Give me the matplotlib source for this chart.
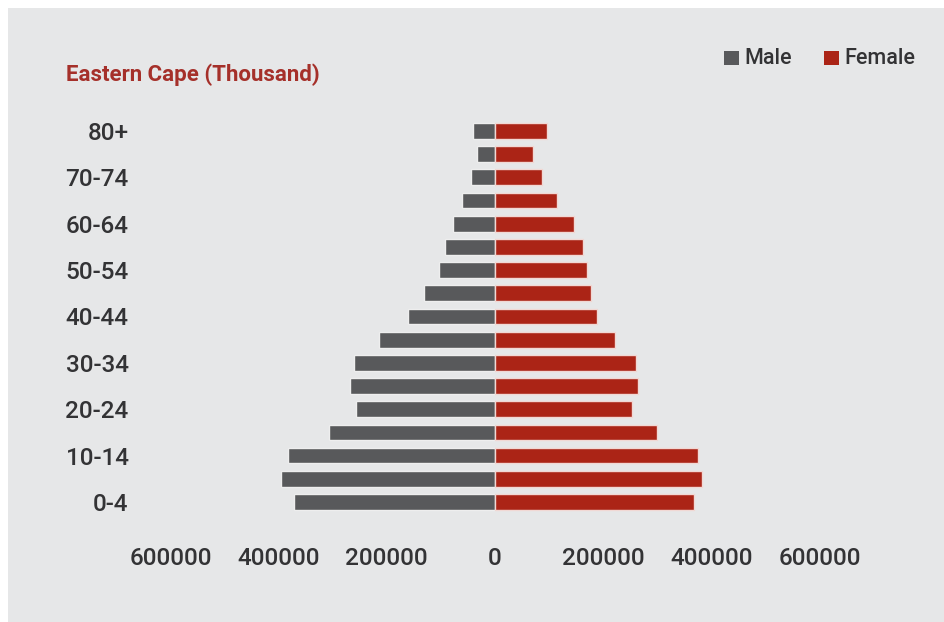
import matplotlib
matplotlib.use("Agg")
import matplotlib.pyplot as plt
from matplotlib.patches import Rectangle
import numpy as np

# Age groups, youngest first
age_groups = ["0-4", "5-9", "10-14", "15-19", "20-24", "25-29", "30-34",
              "35-39", "40-44", "45-49", "50-54", "55-59", "60-64",
              "65-69", "70-74", "75-79", "80+"]
male = [372000, 396000, 383000, 307000, 257000, 268000, 261000, 214000,
        161000, 131000, 104000, 92000, 78000, 61000, 44000, 33000, 41000]
female = [368000, 383000, 375000, 299000, 253000, 264000, 261000, 222000,
          189000, 177000, 170000, 163000, 146000, 115000, 87000, 70000, 96000]
x_ticks = [-600000, -400000, -200000, 0, 200000, 400000, 600000]
x_tick_labels = ["600000", "400000", "200000", "0", "200000", "400000", "600000"]

BG = "#e6e7e8"
MALE_C = "#58595b"
FEMALE_C = "#ab2416"
TITLE_C = "#a5302a"
TEXT_C = "#333335"

plt.rcParams["font.family"] = ["Roboto", "DejaVu Sans"]

fig = plt.figure(figsize=(9.44, 6.22), dpi=100)
fig.patch.set_facecolor("white")
# grey panel, leaving a thin white strip on the left and top
fig.patches.append(Rectangle((8 / 944, 0), 1, 1 - 8 / 622,
                             transform=fig.transFigure, facecolor=BG,
                             edgecolor="none", zorder=-5))

ax = fig.add_axes([0.1805, 0.1669, 0.6875, 0.6486])
ax.set_facecolor("none")
ax.set_zorder(2)

y = np.arange(len(age_groups))
h = 0.68
ax.barh(y, [-v for v in male], height=h, color=MALE_C,
        edgecolor="#eeeeee", linewidth=1.0)
ax.barh(y, female, height=h, color=FEMALE_C,
        edgecolor="#f1d8d4", linewidth=1.0)

ax.set_xlim(-600000, 600000)
ax.set_ylim(-0.7, len(age_groups) - 0.3)

ax.set_xticks(x_ticks)
ax.set_xticklabels(x_tick_labels)
ax.set_yticks(y[::2])
ax.set_yticklabels(age_groups[::2])
ax.tick_params(axis="x", length=0, pad=21, labelsize=17.5, labelcolor=TEXT_C)
ax.tick_params(axis="y", length=0, pad=30, labelsize=17.5, labelcolor=TEXT_C)
for lab in ax.get_xticklabels() + ax.get_yticklabels():
    lab.set_fontweight("medium")
for s in ax.spines.values():
    s.set_visible(False)

fig.text(66 / 944, 1 - 75 / 622, "Eastern Cape (Thousand)", color=TITLE_C,
         fontsize=16, fontweight="bold", ha="left", va="center")

# legend
for x0, label, col in [(724, "Male", MALE_C), (824, "Female", FEMALE_C)]:
    fig.patches.append(Rectangle((x0 / 944, 1 - 65 / 622), 15 / 944, 14 / 622,
                                 transform=fig.transFigure, facecolor=col,
                                 edgecolor="none"))
    fig.text((x0 + 20) / 944, 1 - 58 / 622, label, color=TEXT_C,
             fontsize=15.5, fontweight="medium", ha="left", va="center")

fig.savefig("out.png", dpi=100, facecolor=fig.get_facecolor())
